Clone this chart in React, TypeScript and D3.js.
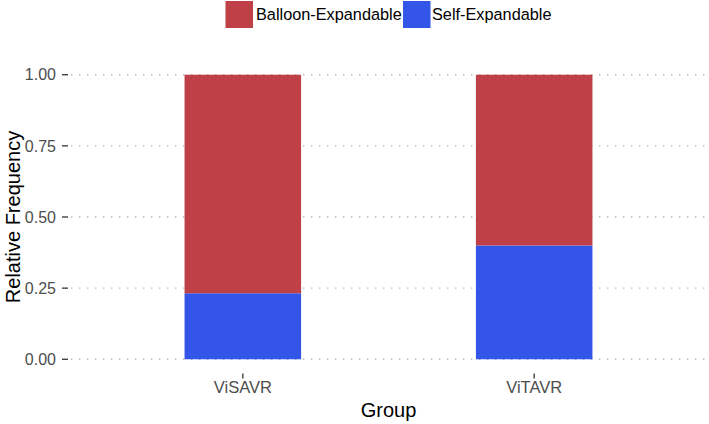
import React from "react";
import * as d3 from "d3";

const groups = ["ViSAVR", "ViTAVR"];
const seriesNames = ["Self-Expandable", "Balloon-Expandable"];
const selfExpandable = [0.232, 0.40];
const balloonExpandable = [0.768, 0.60];
const yTicks = [0, 0.25, 0.5, 0.75, 1.0];
const colors: Record<string, string> = {
  "Balloon-Expandable": "#BF4046",
  "Self-Expandable": "#3456E8",
};

const W = 709;
const H = 424;
const panel = { left: 68, right: 709, top: 60.5, bottom: 373.5 };
const font = "'Liberation Sans', Arial, Helvetica, sans-serif";

export default function App() {
  const x = d3
    .scaleLinear()
    .domain([0.4, 2.6])
    .range([panel.left, panel.right]);
  const y = d3
    .scaleLinear()
    .domain([-0.05, 1.05])
    .range([panel.bottom, panel.top]);
  const barW = 0.4;

  const rows = groups.map((g, i) => ({
    group: g,
    "Self-Expandable": selfExpandable[i],
    "Balloon-Expandable": balloonExpandable[i],
  }));
  const stacked = d3.stack<any>().keys(seriesNames)(rows);

  const legendItems = [
    { name: "Balloon-Expandable", keyX: 225.5, textX: 256 },
    { name: "Self-Expandable", keyX: 403, textX: 432 },
  ];

  return (
    <svg
      width={W}
      height={H}
      style={{ position: "absolute", left: 0, top: 0, background: "#fff" }}
      fontFamily={font}
    >
      {/* gridlines */}
      {yTicks.map((t) => (
        <line
          key={"g" + t}
          x1={panel.left + 3}
          x2={panel.right}
          y1={y(t)}
          y2={y(t)}
          stroke="#b8b8b8"
          strokeWidth={1.4}
          strokeDasharray="1.4,6.6"
        />
      ))}
      {/* bars */}
      {stacked.map((s) =>
        s.map((d, i) => (
          <rect
            key={s.key + i}
            x={x(i + 1 - barW / 2)}
            width={x(i + 1 + barW / 2) - x(i + 1 - barW / 2)}
            y={y(d[1])}
            height={y(d[0]) - y(d[1])}
            fill={colors[s.key]}
          />
        ))
      )}
      {/* y ticks */}
      {yTicks.map((t) => (
        <g key={"t" + t}>
          <line
            x1={panel.left - 6}
            x2={panel.left}
            y1={y(t)}
            y2={y(t)}
            stroke="#333"
            strokeWidth={1.3}
          />
          <text
            x={panel.left - 12}
            y={y(t)}
            dy="0.36em"
            textAnchor="end"
            fontSize={16}
            fill="#4d4d4d"
          >
            {d3.format(".2f")(t)}
          </text>
        </g>
      ))}
      {/* x ticks */}
      {groups.map((g, i) => (
        <g key={g}>
          <line
            x1={x(i + 1)}
            x2={x(i + 1)}
            y1={panel.bottom}
            y2={panel.bottom + 5}
            stroke="#333"
            strokeWidth={1.3}
          />
          <text
            x={x(i + 1)}
            y={panel.bottom + 14}
            dy="0.36em"
            textAnchor="middle"
            fontSize={16.5}
            fill="#4d4d4d"
          >
            {g}
          </text>
        </g>
      ))}
      {/* axis titles */}
      <text
        x={(panel.left + panel.right) / 2}
        y={410}
        dy="0.36em"
        textAnchor="middle"
        fontSize={20}
        fill="#000"
      >
        Group
      </text>
      <text
        transform={`translate(13,${(panel.top + panel.bottom) / 2}) rotate(-90)`}
        textAnchor="middle"
        dy="0.36em"
        fontSize={20}
        fill="#000"
      >
        Relative Frequency
      </text>
      {/* legend */}
      {legendItems.map((l) => (
        <g key={l.name}>
          <rect x={l.keyX} y={1} width={27.5} height={27} fill={colors[l.name]} />
          <text x={l.textX} y={14.5} dy="0.36em" fontSize={16.3} fill="#000">
            {l.name}
          </text>
        </g>
      ))}
    </svg>
  );
}
